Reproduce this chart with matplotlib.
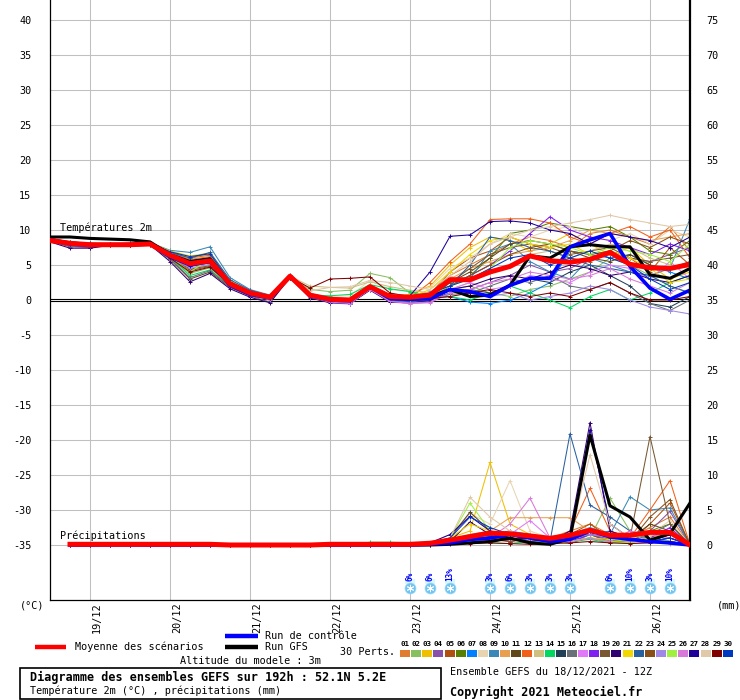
import matplotlib
matplotlib.use('Agg')
import matplotlib.pyplot as plt
from matplotlib.patches import Rectangle
from matplotlib.transforms import offset_copy

plt.rcParams['font.family'] = ['DejaVu Sans Mono']

# ---------------- data ----------------
hours = list(range(0, 193, 6))          # 18/12 12Z .. 26/12 12Z, 6-hourly
day_hours = [12, 36, 60, 84, 108, 132, 156, 180]
day_labels = ['19/12', '20/12', '21/12', '22/12', '23/12', '24/12', '25/12', '26/12']

member_labels = ['01', '02', '03', '04', '05', '06', '07', '08', '09', '10',
                 '11', '12', '13', '14', '15', '16', '17', '18', '19', '20',
                 '21', '22', '23', '24', '25', '26', '27', '28', '29', '30']
member_colors = ['#E07B30', '#88C060', '#F0C000', '#8850A8', '#B05010', '#588000',
                 '#0080FF', '#E8D4B0', '#3A88B8', '#E8A050', '#604818', '#F06018',
                 '#D0C080', '#00D860', '#204058', '#687078', '#E078F8', '#8020F0',
                 '#785830', '#300070', '#F0D800', '#2860A0', '#885018', '#A088E8',
                 '#A0F040', '#D878D8', '#200098', '#E0C8A8', '#800000', '#0038C0']

temp_members = [
    [8.7,8.2,8.0,8.0,8.0,8.1,6.8,5.8,6.2,2.6,1.2,0.5,3.6,0.9,0.3,0.2,2.1,0.7,0.6,1.0,3.5,5.0,6.5,8.0,9.0,8.5,7.5,9.5,10.0,9.0,8.0,10.5,7.0],
    [8.5,8.0,7.9,7.8,7.9,8.0,6.0,3.8,4.6,2.0,0.8,0.2,3.3,1.5,1.2,1.4,3.8,3.2,1.0,0.6,1.5,2.0,1.0,0.5,1.5,2.0,3.0,4.0,6.0,5.0,3.5,2.0,1.0],
    [8.8,8.3,8.1,8.0,8.1,8.2,7.0,6.2,6.5,2.8,1.3,0.6,3.5,0.8,0.2,0.1,2.0,0.6,0.8,2.0,5.0,7.5,9.0,8.5,7.0,8.0,9.5,8.0,6.5,7.5,5.0,3.0,4.0],
    [8.4,7.6,7.5,7.8,7.9,8.0,6.5,5.0,5.4,2.2,0.9,0.3,3.4,0.5,-0.2,-0.4,1.6,-0.2,-0.4,-0.2,1.0,1.5,2.5,3.5,5.0,4.0,4.5,6.0,7.0,6.0,5.5,6.5,7.5],
    [8.6,8.1,7.9,7.9,7.9,8.0,6.6,5.5,5.9,2.4,1.0,0.4,3.3,0.7,0.1,0.0,1.9,0.4,0.3,0.8,4.0,6.0,7.0,9.0,8.0,7.0,6.0,5.5,7.0,6.0,4.0,7.5,5.0],
    [8.5,8.0,7.9,7.9,7.9,8.0,6.3,4.8,5.3,2.1,0.7,0.2,3.2,0.6,-0.1,-0.2,1.7,0.2,0.1,0.4,2.0,3.5,6.0,9.5,10.0,11.0,10.5,10.0,10.5,9.0,7.0,6.5,8.5],
    [8.7,8.2,8.0,7.9,8.0,8.1,6.7,5.6,6.0,2.5,1.1,0.5,3.5,0.7,0.0,-0.1,1.8,0.3,0.2,0.3,0.5,-0.3,-0.5,0.0,1.0,2.5,7.0,6.5,6.0,6.5,5.0,4.0,3.0],
    [8.6,8.1,7.9,7.9,7.9,8.0,6.4,5.1,5.6,2.3,1.0,0.4,3.4,0.8,0.5,0.6,2.8,1.5,1.2,1.8,4.5,6.0,8.0,9.5,9.0,10.0,10.5,9.0,8.5,9.5,8.0,10.0,9.0],
    [8.8,8.3,8.1,8.0,8.0,8.2,7.1,6.8,7.6,3.2,1.5,0.7,3.6,0.9,0.3,0.1,2.0,0.5,0.4,1.2,2.5,3.0,7.0,8.0,5.5,4.0,3.0,6.0,5.0,4.0,3.5,4.5,11.6],
    [8.6,8.1,8.0,7.9,8.0,8.0,6.6,5.3,5.7,2.3,1.0,0.4,3.4,0.6,0.0,-0.1,1.8,0.3,0.2,0.7,3.0,4.5,5.5,6.5,7.0,7.5,8.5,10.0,9.5,9.0,8.5,9.0,9.5],
    [8.4,7.7,7.6,7.8,7.9,7.9,5.8,3.0,4.0,1.8,0.6,0.1,3.2,0.5,-0.2,-0.3,1.6,0.1,0.0,0.2,2.5,4.0,6.0,8.0,8.5,8.0,7.0,6.0,5.5,6.5,5.0,4.5,5.5],
    [8.7,8.2,8.0,7.9,8.0,8.1,6.9,6.0,6.4,2.7,1.2,0.5,3.5,0.8,0.1,0.0,1.9,0.4,0.3,2.5,5.5,8.0,11.5,11.6,11.6,11.0,9.0,8.0,9.5,10.5,9.0,10.0,6.0],
    [8.5,8.0,7.8,7.9,7.9,8.0,6.2,4.5,5.0,2.2,0.9,0.5,3.4,2.0,1.8,1.7,2.6,1.9,1.4,1.0,1.5,2.5,4.0,5.0,6.5,7.0,6.0,7.0,8.0,7.5,6.0,5.0,4.5],
    [8.6,8.1,7.9,7.9,7.9,8.0,6.1,3.5,4.3,2.0,0.8,0.2,3.3,0.7,0.6,0.8,2.2,1.6,1.2,0.6,0.5,0.0,1.0,2.0,1.0,0.0,-1.1,0.5,1.5,0.0,1.0,2.5,3.5],
    [8.5,8.0,7.8,7.9,7.9,8.0,6.4,5.0,5.5,2.3,0.9,0.3,3.3,0.5,-0.1,-0.3,1.7,0.0,-0.2,0.1,1.0,1.5,1.0,2.0,3.0,2.5,4.0,5.0,3.5,2.0,-0.5,-1.0,0.5],
    [8.4,7.7,7.6,7.8,7.9,7.9,5.9,3.2,4.2,1.9,0.6,-0.3,3.3,0.4,-0.3,-0.4,1.5,-0.1,-0.3,0.0,0.8,1.0,2.0,3.0,2.5,3.5,2.0,1.5,2.5,1.0,-0.5,-1.5,0.0],
    [8.6,7.9,7.8,7.9,7.9,8.0,6.3,4.9,5.4,2.2,0.8,0.2,3.3,0.4,-0.4,-0.6,1.5,-0.3,-0.5,-0.3,1.5,2.5,1.5,2.0,3.5,3.0,2.5,4.0,5.0,4.5,3.0,5.5,3.0],
    [8.6,8.1,7.9,7.9,7.9,8.0,6.5,5.2,5.6,2.3,1.0,0.4,3.4,0.6,0.0,-0.1,1.8,0.2,0.1,0.5,2.0,3.5,5.0,7.0,9.5,11.9,10.0,9.0,8.5,7.5,6.5,8.0,7.0],
    [8.5,7.9,7.8,7.9,7.9,8.0,6.2,4.4,4.9,2.2,0.8,0.3,3.3,0.6,0.0,0.0,1.8,0.3,0.2,0.5,2.5,4.5,6.5,7.5,8.0,7.5,6.5,7.0,7.5,6.0,5.5,6.0,6.5],
    [8.3,7.4,7.4,7.8,7.9,7.9,5.5,2.6,3.8,1.6,0.4,-0.4,3.2,0.3,-0.4,-0.5,1.4,-0.3,-0.4,-0.1,1.5,2.0,3.0,3.5,3.0,4.0,5.0,4.5,3.5,4.0,3.0,2.5,3.5],
    [8.8,8.3,8.1,8.0,8.1,8.2,7.0,6.3,6.7,2.8,1.3,0.6,3.5,0.8,0.2,0.1,2.0,0.5,0.4,1.5,4.0,6.5,8.5,9.0,8.0,7.5,8.0,6.5,7.0,6.0,4.5,2.5,3.0],
    [8.7,8.2,8.0,7.9,8.0,8.1,6.8,6.0,6.8,2.9,1.4,0.6,3.5,0.8,0.2,0.0,1.9,0.4,0.3,0.9,2.0,5.0,9.0,8.5,7.5,7.0,6.0,5.0,4.5,4.0,3.5,2.0,1.0],
    [8.5,8.0,7.8,7.9,7.9,8.0,6.1,4.2,4.8,2.1,0.7,0.2,3.3,0.6,0.0,-0.1,1.7,0.2,0.1,0.4,2.0,3.5,5.0,6.5,7.5,8.0,7.0,6.5,7.0,8.5,7.5,9.0,8.0],
    [8.5,7.8,7.7,7.8,7.9,7.9,6.0,4.6,5.1,2.1,0.7,0.0,3.3,0.4,-0.3,-0.5,1.6,-0.2,-0.4,-0.3,1.0,1.5,0.5,1.0,0.0,0.5,1.0,2.0,1.5,0.0,-1.0,-1.5,-2.0],
    [8.6,8.1,7.9,7.9,7.9,8.0,6.2,4.0,5.9,2.3,0.9,0.3,3.4,0.6,0.0,-0.1,1.8,0.3,0.2,0.6,2.0,3.0,4.5,7.5,8.5,8.0,7.5,6.5,7.5,7.0,6.5,5.5,8.0],
    [8.6,8.1,7.9,7.9,7.9,8.0,6.4,5.0,5.5,2.2,0.9,0.3,3.4,0.5,-0.2,-0.4,1.5,-0.2,-0.5,-0.4,1.0,1.5,2.5,3.0,4.0,3.5,3.0,3.5,4.5,3.0,2.0,1.0,2.5],
    [8.5,8.0,7.8,7.9,7.9,8.0,6.3,4.9,5.4,2.2,0.8,0.3,3.3,0.6,0.0,-0.1,1.8,0.3,0.6,4.0,9.1,9.3,11.2,11.3,11.0,10.0,9.5,8.0,9.5,9.0,8.5,7.5,9.0],
    [8.7,8.2,8.0,7.9,8.0,8.1,6.7,5.5,6.0,2.5,1.1,0.4,3.4,1.3,1.8,1.9,2.8,2.5,2.0,1.5,3.5,5.5,8.0,9.0,10.0,10.5,11.0,11.5,12.1,11.5,11.0,10.5,10.8],
    [8.5,8.0,7.8,7.9,7.9,8.0,6.0,4.0,4.7,2.2,0.8,0.3,3.3,1.7,3.0,3.1,3.3,1.0,0.5,0.2,0.5,1.0,1.5,1.0,0.5,1.0,0.5,1.5,2.5,1.0,0.0,0.0,0.5],
    [8.8,8.3,8.1,8.0,8.1,8.2,6.9,6.2,6.6,2.6,1.2,0.5,3.5,0.7,0.1,0.0,1.9,0.4,0.3,1.0,2.0,3.0,4.5,6.0,6.5,5.0,6.0,7.0,6.0,5.0,3.0,1.5,2.5],
]
temp_control = [8.6,8.0,7.8,7.9,7.9,8.0,6.2,5.0,5.5,2.1,0.8,0.3,3.4,0.6,0.0,-0.1,1.9,0.2,0.1,0.2,1.5,1.2,0.5,2.1,3.1,3.1,7.6,8.6,9.5,4.8,1.7,0.1,1.4]
temp_gfs = [9.0,9.0,8.8,8.7,8.6,8.3,6.5,5.5,5.9,2.3,0.9,0.3,3.4,0.7,0.1,0.0,1.9,0.4,0.3,0.5,1.5,0.5,0.7,2.1,6.3,6.0,7.6,7.9,7.6,7.6,3.6,3.1,4.5]
temp_mean = [8.5,8.1,7.9,7.9,7.9,8.0,6.4,5.2,5.6,2.3,1.0,0.4,3.4,0.7,0.1,0.0,1.9,0.5,0.4,0.7,2.9,2.9,4.0,4.8,6.3,5.6,5.4,5.8,6.8,5.1,4.6,4.5,5.1]

# precipitation (mm), from 18/12 18Z onwards
precip_members = [
    [0,0,0,0,0,0,0,0,0,0,0,0,0,0,0,0,0, 0,0.2,0.8,1.5,2.0,1.0,0.5,1.0,2.0,3.0,1.5,1.0,2.5,4.0,0],
    [0,0,0,0,0,0,0,0,0,0,0,0,0,0,0,0,0, 0,0.1,0.5,1.0,0.5,1.5,0.8,0.3,0.5,1.0,6.7,2.0,1.0,2.0,0],
    [0,0,0,0,0,0,0,0,0,0,0,0,0,0,0,0,0, 0,0.3,1.0,2.0,11.8,3.0,1.5,1.0,0.5,1.0,0.8,1.5,1.0,2.0,0],
    [0,0,0,0,0,0,0,0,0,0,0,0,0,0,0,0,0, 0,0,0.3,0.5,1.0,1.5,0.5,0.3,1.0,1.5,1.0,0.5,2.0,4.8,0],
    [0,0,0,0,0,0,0,0,0,0,0,0,0,0,0,0,0, 0,0.2,0.6,1.0,1.5,0.5,1.0,0.5,1.5,3.0,1.0,0.5,3.0,6.0,0],
    [0,0,0,0,0,0,0,0,0,0,0,0,0,0,0,0,0, 0,0,0.5,1.0,0.5,0.8,1.0,0.5,0.3,1.0,0.5,0.5,2.0,3.0,0],
    [0,0,0,0,0,0,0,0,0,0,0,0,0,0,0,0,0, 0,0.1,0.3,0.5,1.0,2.0,1.5,0.5,0.3,1.5,2.0,1.0,0.5,1.0,0],
    [0,0,0,0,0,0,0,0,0,0,0,0,0,0,0,0,0, 0,0.3,1.5,4.5,3.0,9.2,2.0,1.0,0.5,2.0,1.0,0.5,1.5,3.5,0],
    [0,0,0,0,0,0,0,0,0,0,0,0,0,0,0,0,0, 0,0.2,0.5,1.0,1.5,2.0,1.0,0.5,1.5,2.5,1.5,6.9,5.0,5.3,0],
    [0,0,0,0,0,0,0,0,0,0,0,0,0,0,0,0,0, 0,0.2,0.5,1.0,2.0,3.9,3.9,3.9,3.9,2.0,1.0,0.5,1.0,2.0,0],
    [0,0,0,0,0,0,0,0,0,0,0,0,0,0,0,0,0, 0,0.1,1.0,4.7,2.0,1.5,1.0,0.5,1.0,1.5,0.5,0.8,3.0,2.0,0],
    [0,0,0,0,0,0,0,0,0,0,0,0,0,0,0,0,0, 0,0.1,0.5,1.0,0.8,1.0,0.5,0.3,2.0,8.1,2.0,1.0,5.0,9.2,0],
    [0,0,0,0,0,0,0,0,0,0,0,0,0,0,0,0,0, 0,0.2,0.5,1.5,0.8,0.5,0.3,0.5,0.8,1.0,0.5,0.3,1.0,1.5,0],
    [0,0,0,0,0,0,0,0,0,0,0,0,0,0,0.1,0.4,0.4, 0.3,0.3,0.3,0.5,0.3,0.2,0.5,0.3,0.5,0.8,0.3,0.5,1.0,0.5,0],
    [0,0,0,0,0,0,0,0,0,0,0,0,0,0,0,0,0, 0,0.1,0.3,0.8,1.2,1.0,0.5,0.2,0.5,1.0,0.5,1.5,1.0,0.5,0],
    [0,0,0,0,0,0,0,0,0,0,0,0,0,0,0,0,0, 0,0.1,0.5,0.3,0.5,0.8,1.0,0.5,0.3,1.5,0.8,0.5,1.5,3.0,0],
    [0,0,0,0,0,0,0,0,0,0,0,0,0,0,0,0,0, 0,0.1,0.5,1.0,0.5,1.5,3.5,1.0,0.5,1.0,0.5,2.0,1.0,0.5,0],
    [0,0,0,0,0,0,0,0,0,0,0,0,0,0,0,0,0, 0,0,0.3,0.5,1.0,0.5,1.0,0.3,0.5,1.5,1.0,0.5,1.0,2.5,0],
    [0,0,0,0,0,0,0,0,0,0,0,0,0,0,0,0,0, 0,0.1,0.5,1.0,1.5,1.0,0.5,0.3,1.0,1.5,0.5,1.0,15.5,3.0,0],
    [0,0,0,0,0,0,0,0,0,0,0,0,0,0,0,0,0, 0,0.1,0.5,3.3,1.5,0.8,1.0,0.5,2.0,17.5,2.0,1.0,0.5,1.5,0],
    [0,0,0,0,0,0,0,0,0,0,0,0,0,0,0,0,0, 0,0.2,1.0,3.0,2.0,1.0,0.5,0.3,0.5,1.0,0.8,0.5,1.0,0.5,0],
    [0,0,0,0,0,0,0,0,0,0,0,0,0,0,0,0,0, 0,0.1,0.3,1.0,1.5,2.0,1.0,0.5,15.9,5.7,4.0,2.0,1.0,0.5,0],
    [0,0,0,0,0,0,0,0,0,0,0,0,0,0,0,0,0, 0,0.2,0.5,1.0,0.8,0.5,1.0,0.3,1.0,2.0,1.5,0.5,4.0,6.5,0],
    [0,0,0,0,0,0,0,0,0,0,0,0,0,0,0,0,0, 0,0,0.3,0.5,1.0,2.0,1.0,0.5,1.0,1.5,1.0,0.5,0.3,0.2,0],
    [0,0,0,0,0,0,0,0,0,0,0,0,0,0,0,0,0, 0,0.3,1.0,6.0,2.0,1.0,0.5,0.3,0.5,1.0,0.5,0.3,1.0,0.5,0],
    [0,0,0,0,0,0,0,0,0,0,0,0,0,0,0,0,0, 0,0.1,0.3,0.8,1.0,3.0,6.7,1.0,0.5,1.0,0.5,2.0,1.5,1.0,0],
    [0,0,0,0,0,0,0,0,0,0,0,0,0,0,0,0,0, 0,0.3,1.5,4.1,2.0,1.0,0.5,0.8,1.5,16.5,3.0,1.0,0.5,1.0,0],
    [0,0,0,0,0,0,0,0,0,0,0,0,0,0,0,0,0, 0,0.2,1.0,6.8,4.0,2.0,1.0,0.5,1.0,12.9,3.0,1.0,1.5,2.0,0],
    [0,0,0,0,0,0,0,0,0,0,0,0,0,0,0,0,0, 0,0,0.1,0.2,0.3,0.2,0.1,0.2,0.3,0.5,0.3,0.2,0.3,0.5,0],
    [0,0,0,0,0,0,0,0,0,0,0,0,0,0,0,0,0, 0,0.3,1.0,4.0,2.5,1.5,1.0,0.5,1.0,2.0,1.0,0.8,0.5,1.0,0],
]
precip_control = [0,0,0,0,0,0,0,0,0,0,0,0,0,0,0,0,0, 0,0.1,0.3,0.8,1.0,1.5,1.0,0.5,0.8,2.0,1.2,0.8,0.5,0.3,0.0]
precip_gfs = [0,0,0.1,0.1,0,0,0,0,0,0,0,0,0,0,0,0,0, 0,0,0.1,0.3,0.5,1.0,0.3,0.1,0.9,15.7,5.6,4.0,0.7,1.6,6.0]
precip_mean = [0.1,0.1,0.1,0.1,0.1,0.1,0.1,0.1,0.0,0.0,0.0,0.0,0.0,0.1,0.1,0.1,0.1,
               0.1,0.25,0.7,1.2,1.7,1.6,1.3,0.95,1.4,2.1,1.4,1.4,1.8,1.8,0.0]

snow_hours = [108, 114, 120, 132, 138, 144, 150, 156, 168, 174, 180, 186]
snow_labels = ['6%', '6%', '13%', '3%', '6%', '3%', '3%', '3%', '6%', '10%', '3%', '10%']

# ---------------- figure ----------------
W, H = 740, 700
fig = plt.figure(figsize=(W / 100, H / 100), dpi=100)
ax = fig.add_axes([50 / W, 100 / H, 640 / W, 600 / H])
YT = 300 / 7.0
ax.set_xlim(0, 192)
ax.set_ylim(-YT, YT)

FS = 7.3
FB = 8.5
for v in range(-35, 45, 5):
    if v != 0:
        ax.axhline(v, color='#C0C0C0', lw=0.75, zorder=0)
for h in day_hours:
    ax.axvline(h, color='#C0C0C0', lw=0.75, zorder=0)
ax.axhline(0.143, color='black', lw=0.8, zorder=1)
ax.axhline(-0.143, color='black', lw=0.8, zorder=1)

ax.set_xticks([])
ax.set_yticks(list(range(-35, 45, 5)))
ax.set_yticklabels([str(v) for v in range(-35, 45, 5)])
ax.tick_params(axis='y', length=0, pad=13.5, labelsize=FS)
ax.spines['top'].set_visible(False)
ax.spines['right'].set_visible(False)
ax.spines['left'].set_linewidth(0.9)
ax.spines['bottom'].set_linewidth(0.9)

ax2 = ax.twinx()
ax2.set_ylim(-YT + 35, YT + 35)
ax2.set_yticks(list(range(0, 80, 5)))
ax2.set_yticklabels([str(v) for v in range(0, 80, 5)])
ax2.tick_params(axis='y', length=0, pad=12, labelsize=FS)
for s in ['top', 'left', 'bottom']:
    ax2.spines[s].set_visible(False)
ax2.spines['right'].set_linewidth(1.6)

# members
for vals, col in zip(temp_members, member_colors):
    ax.plot(hours, vals, color=col, lw=0.75, marker='+', ms=3.5, mew=0.7, zorder=2)
for vals, col in zip(precip_members, member_colors):
    ax2.plot(hours[1:], vals, color=col, lw=0.75, marker='+', ms=3.5, mew=0.7, zorder=2)

ax.plot(hours, temp_gfs, color='black', lw=2.2, zorder=3)
ax.plot(hours, temp_control, color='#0000FF', lw=2.6, zorder=4)
ax.plot(hours, temp_mean, color='#FF0000', lw=3.6, zorder=5)
ax2.plot(hours[1:], precip_gfs, color='black', lw=2.2, zorder=3)
ax2.plot(hours[1:], precip_control, color='#0000FF', lw=2.6, zorder=4)
ax2.plot(hours[1:], precip_mean, color='#FF0000', lw=3.6, zorder=5)

ax.text(3, 10.3, 'Températures 2m', fontsize=FS, va='center', ha='left', zorder=6)
ax2.text(3, 1.3, 'Précipitations', fontsize=FS, va='center', ha='left', zorder=6)

# day labels below the axis
tr = offset_copy(ax.transData, fig=fig, x=5.2, y=-1.5, units='points')
for h, lab in zip(day_hours, day_labels):
    ax.text(h, -YT, lab, rotation=90, ha='center', va='top', fontsize=FS,
            transform=tr, clip_on=False)

# snow icons
y_icon = (300 - 588) / 7.0
for h, lab in zip(snow_hours, snow_labels):
    ax.add_patch(Rectangle((h - 1.6, (300 - 583.5) / 7.0), 3.2, 0.65,
                           color='#D8F8FF', zorder=6, lw=0))
    ax.text(h, (300 - 581) / 7.0, lab, rotation=90, ha='center', va='bottom',
            fontsize=5.5, fontweight='bold', color='#0000FF', zorder=7)
ax.scatter(snow_hours, [y_icon] * len(snow_hours), s=62, c='#70C4F0',
           edgecolors='#A0D8F8', linewidths=0.5, zorder=7)
ax.scatter(snow_hours, [y_icon] * len(snow_hours), s=22, marker=(6, 2, 0),
           c='white', linewidths=0.7, zorder=8)

# ---------------- legend / annotations (pixel coordinates) ----------------
lay = fig.add_axes([0, 0, 1, 1])
lay.set_xlim(0, W)
lay.set_ylim(H, 0)
lay.axis('off')
lay.patch.set_alpha(0)

lay.text(20, 606, '(°C)', fontsize=FS, va='center', ha='left')
lay.text(717, 606, '(mm)', fontsize=FS, va='center', ha='left')

lay.plot([35, 66], [647, 647], color='#FF0000', lw=3.2, solid_capstyle='butt')
lay.text(75, 647, 'Moyenne des scénarios', fontsize=FS, va='center')
lay.plot([225, 258], [636, 636], color='#0000FF', lw=3.2, solid_capstyle='butt')
lay.text(265, 636, 'Run de contrôle', fontsize=FS, va='center')
lay.plot([225, 258], [647, 647], color='black', lw=3.2, solid_capstyle='butt')
lay.text(265, 647, 'Run GFS', fontsize=FS, va='center')
lay.text(180, 661, 'Altitude du modele : 3m', fontsize=FS, va='center')
lay.text(340, 652, '30 Perts.', fontsize=FS, va='center')

for k, (lab, col) in enumerate(zip(member_labels, member_colors)):
    x0 = 400 + 11.13 * k
    lay.add_patch(Rectangle((x0, 650), 10, 7, color=col, lw=0))
    lay.text(x0 + 5, 644, lab, fontsize=5.4, fontweight='bold', ha='center', va='center')

lay.add_patch(Rectangle((20, 668), 421, 31, fill=False, ec='black', lw=1.2))
lay.text(30, 677.5, 'Diagramme des ensembles GEFS sur 192h : 52.1N 5.2E',
         fontsize=FB, fontweight='bold', va='center')
lay.text(30, 691, 'Température 2m (°C) , précipitations (mm)', fontsize=FS, va='center')
lay.text(450, 672, 'Ensemble GEFS du 18/12/2021 - 12Z', fontsize=FS, va='center')
lay.text(450, 692, 'Copyright 2021 Meteociel.fr', fontsize=FB, fontweight='bold', va='center')

fig.savefig('out.png', dpi=100)
